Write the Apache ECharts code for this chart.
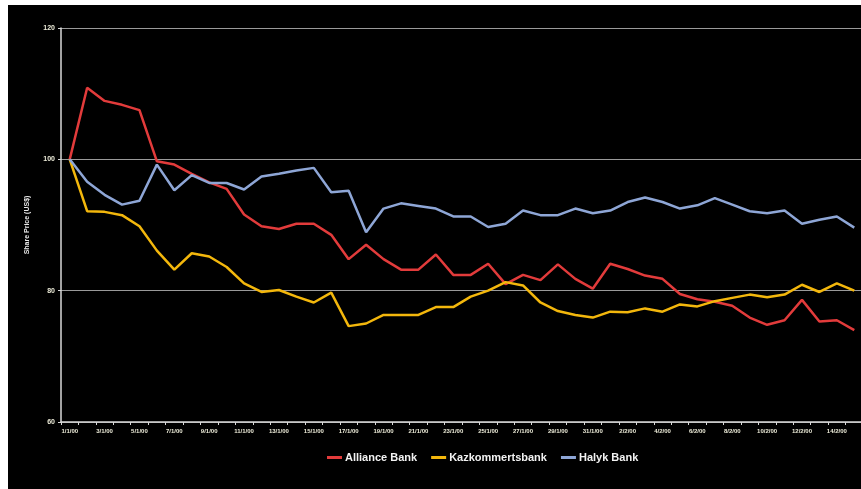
<!DOCTYPE html>
<html>
<head>
<meta charset="utf-8">
<script src="https://cdn.jsdelivr.net/npm/echarts@6/dist/echarts.min.js"></script>
<style>
  html, body { margin: 0; padding: 0; background: #fff; }
  #chart { position: absolute; left: 8px; top: 5px; width: 853px; height: 484px; background: #000; }
</style>
</head>
<body>
<div id="chart"></div>
<script>
const dates = [
  '1/1/00','2/1/00','3/1/00','4/1/00','5/1/00','6/1/00','7/1/00','8/1/00','9/1/00','10/1/00',
  '11/1/00','12/1/00','13/1/00','14/1/00','15/1/00','16/1/00','17/1/00','18/1/00','19/1/00','20/1/00',
  '21/1/00','22/1/00','23/1/00','24/1/00','25/1/00','26/1/00','27/1/00','28/1/00','29/1/00','30/1/00',
  '31/1/00','1/2/00','2/2/00','3/2/00','4/2/00','5/2/00','6/2/00','7/2/00','8/2/00','9/2/00',
  '10/2/00','11/2/00','12/2/00','13/2/00','14/2/00','15/2/00'
]
const alliance = [
  100, 110.9, 108.9, 108.3, 107.5, 99.7, 99.2, 97.8, 96.5, 95.5,
  91.6, 89.8, 89.4, 90.2, 90.2, 88.5, 84.8, 87.0, 84.8, 83.2,
  83.2, 85.5, 82.4, 82.4, 84.1, 81.0, 82.4, 81.6, 84.0, 81.8,
  80.3, 84.1, 83.3, 82.3, 81.8, 79.5, 78.7, 78.3, 77.7, 75.9,
  74.8, 75.5, 78.6, 75.3, 75.5, 74.0
]
const kazkom = [
  100, 92.1, 92.0, 91.5, 89.8, 86.1, 83.2, 85.7, 85.2, 83.6,
  81.1, 79.8, 80.1, 79.1, 78.2, 79.7, 74.6, 75.0, 76.3, 76.3,
  76.3, 77.5, 77.5, 79.1, 80.0, 81.3, 80.8, 78.2, 76.9, 76.3,
  75.9, 76.8, 76.7, 77.3, 76.8, 77.9, 77.6, 78.4, 78.9, 79.4,
  79.0, 79.4, 80.9, 79.8, 81.1, 80.0
]
const halyk = [
  100, 96.6, 94.6, 93.1, 93.7, 99.2, 95.3, 97.6, 96.4, 96.4,
  95.4, 97.4, 97.8, 98.3, 98.7, 95.0, 95.2, 88.9, 92.5, 93.3,
  92.9, 92.5, 91.3, 91.3, 89.7, 90.2, 92.2, 91.5, 91.5, 92.5,
  91.8, 92.2, 93.5, 94.2, 93.5, 92.5, 93.0, 94.1, 93.1, 92.1,
  91.8, 92.2, 90.2, 90.8, 91.3, 89.6
]
const yTicks = [60, 80, 100, 120]

const myChart = echarts.init(document.getElementById('chart'))

function line(name, data, color) {
  return {
    name: name,
    type: 'line',
    data: data,
    symbol: 'none',
    color: color,
    lineStyle: { width: 2.5, color: color }
  }
}

const option = {
  backgroundColor: '#000',
  animation: false,
  grid: {
    left: 53,
    right: -2,
    top: 23,
    bottom: 67,
    containLabel: false,
    outerBoundsMode: 'none'
  },
  legend: {
    left: 314,
    top: 442,
    itemWidth: 15,
    itemHeight: 3,
    itemGap: 14,
    icon: 'rect',
    textStyle: {
      color: '#f2f2f2',
      fontSize: 11,
      fontWeight: 'bold',
      fontFamily: 'Liberation Sans, Arial, sans-serif',
      padding: [0, 0, 0, -2]
    }
  },
  xAxis: {
    type: 'category',
    data: dates,
    boundaryGap: true,
    axisLine: { lineStyle: { color: '#d8d8d8', width: 1.5 } },
    axisTick: { show: true, interval: 0, length: 3, lineStyle: { color: '#d8d8d8' } },
    axisLabel: {
      interval: 1,
      color: '#ecebd8',
      fontSize: 6,
      fontWeight: 'bold',
      fontFamily: 'Liberation Sans, Arial, sans-serif',
      margin: 6
    },
    splitLine: { show: false }
  },
  yAxis: {
    type: 'value',
    min: yTicks[0],
    max: yTicks[yTicks.length - 1],
    interval: 20,
    name: 'Share Price (US$)',
    nameLocation: 'middle',
    nameGap: 30,
    nameTextStyle: {
      color: '#e8e8e8',
      fontSize: 7,
      fontWeight: 'bold',
      fontFamily: 'Liberation Sans, Arial, sans-serif'
    },
    axisLine: { show: true, lineStyle: { color: '#d8d8d8', width: 1.5 } },
    axisTick: { show: true, length: 3, lineStyle: { color: '#d8d8d8' } },
    axisLabel: {
      color: '#ecebd8',
      fontSize: 7,
      fontWeight: 'bold',
      fontFamily: 'Liberation Sans, Arial, sans-serif',
      margin: 6
    },
    splitLine: { show: true, lineStyle: { color: '#9a9a9a', width: 1.2 } }
  },
  series: [
    line('Alliance Bank', alliance, '#e23b3b'),
    line('Kazkommertsbank', kazkom, '#f3b70c'),
    line('Halyk Bank', halyk, '#8ea6d6')
  ]
}

myChart.setOption(option)
window.onresize = myChart.resize
</script>
</body>
</html>
